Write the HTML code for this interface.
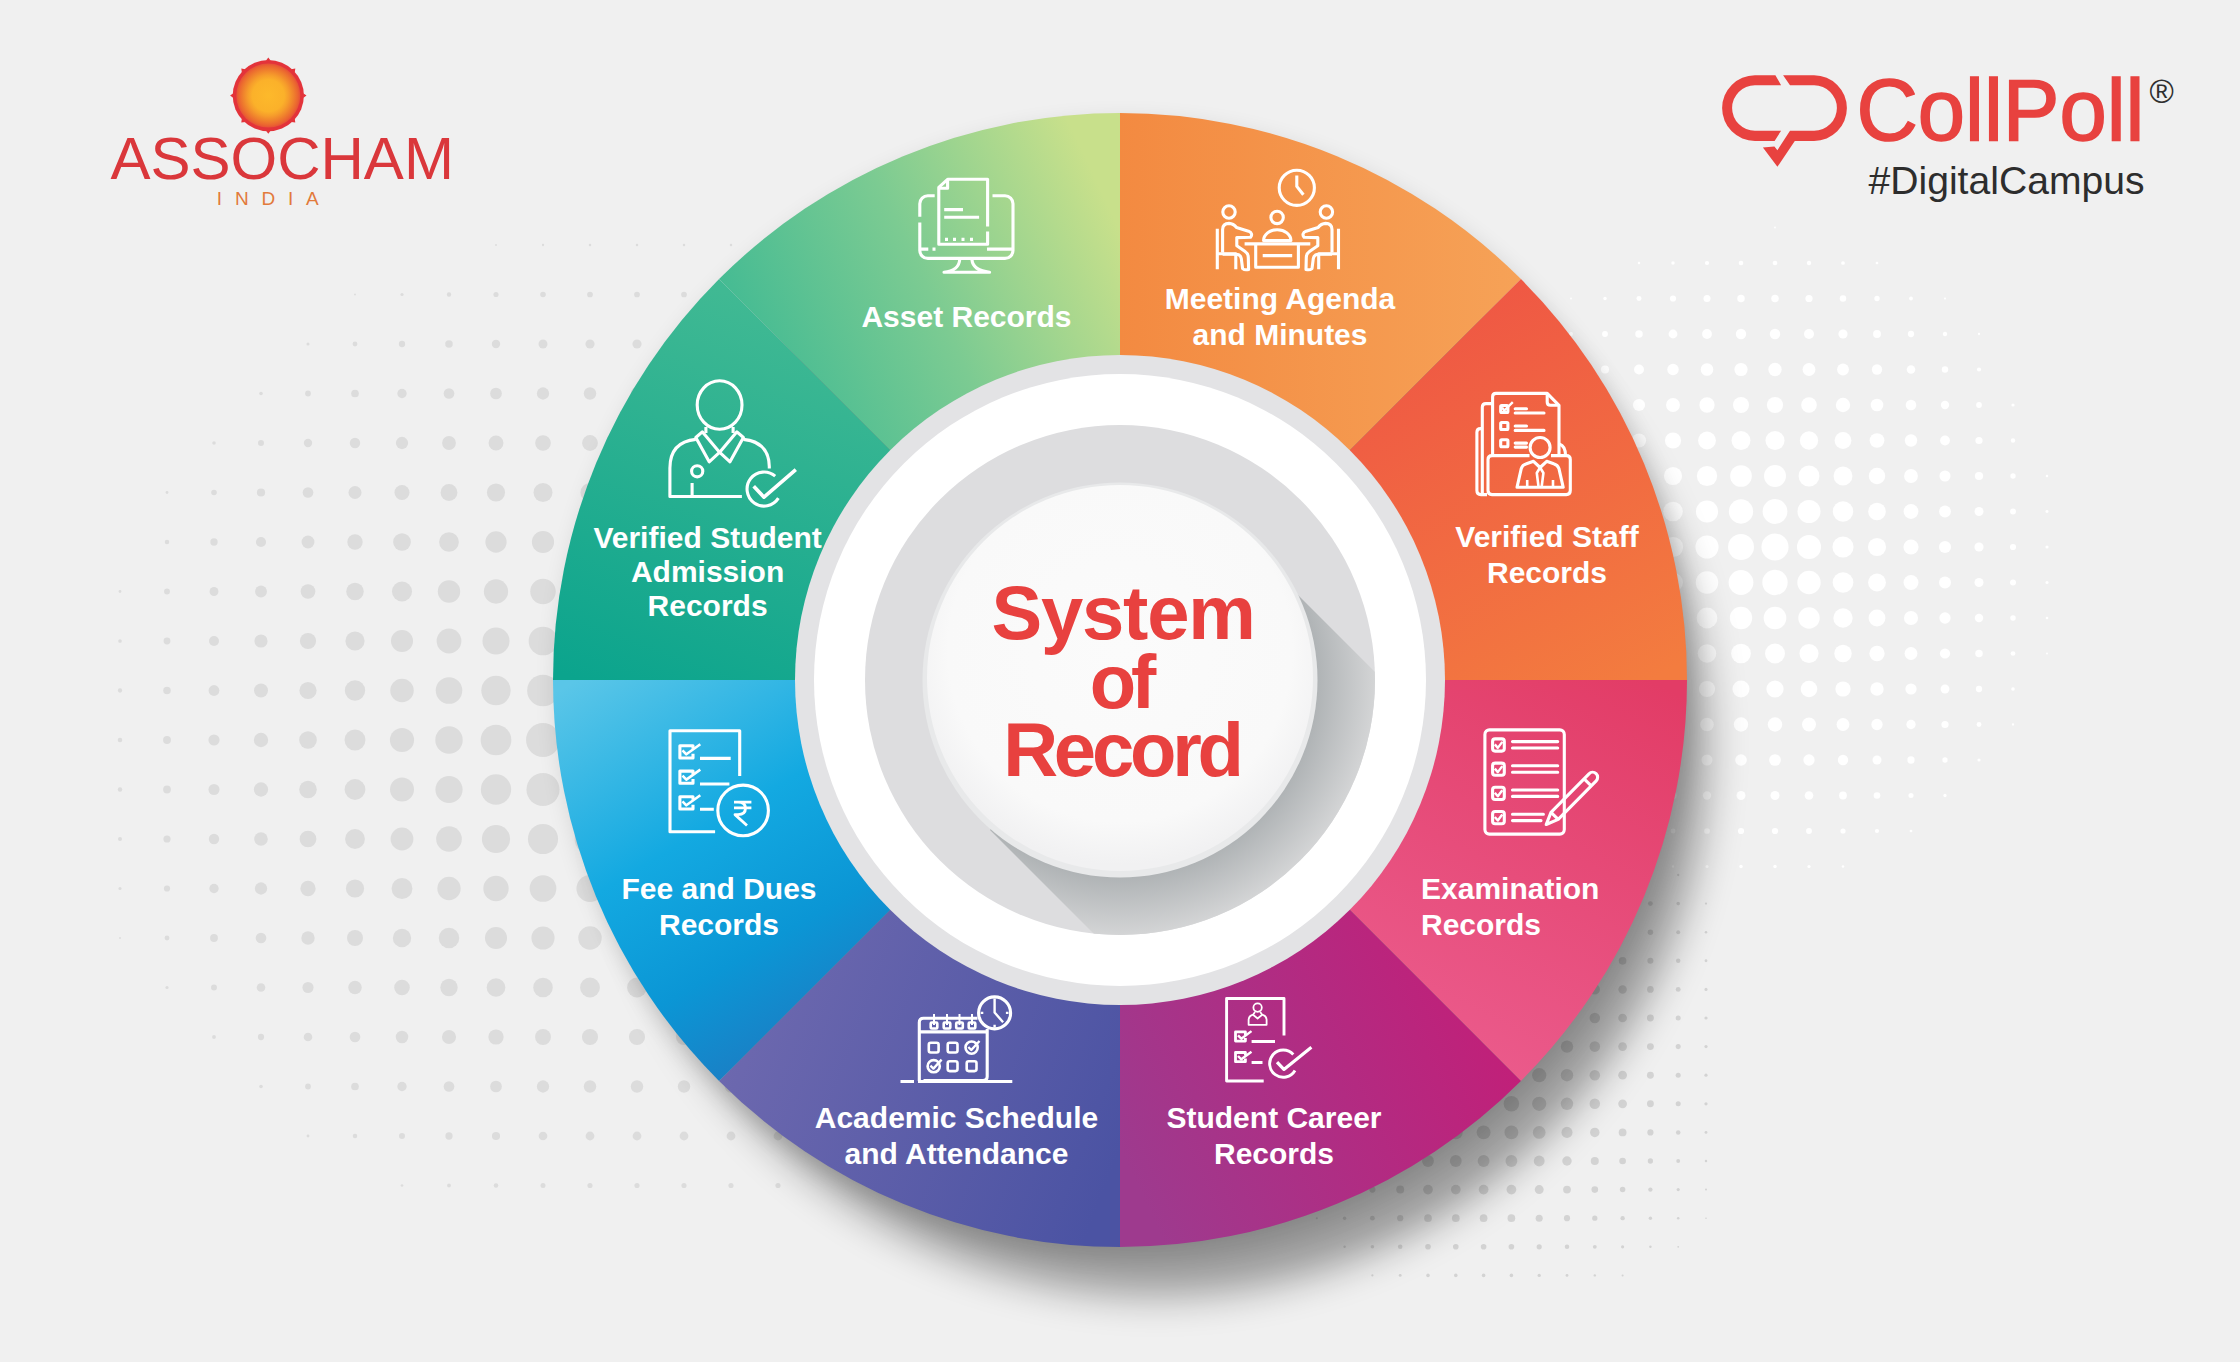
<!DOCTYPE html>
<html><head><meta charset="utf-8"><style>
html,body{margin:0;padding:0;}
body{width:2240px;height:1362px;overflow:hidden;background:#f0f0f0;position:relative;font-family:"Liberation Sans",sans-serif;}
svg{position:absolute;left:0;top:0;}
.lbl{font-family:"Liberation Sans",sans-serif;font-weight:bold;font-size:30px;letter-spacing:0px;fill:#fff;}
.sor{font-family:"Liberation Sans",sans-serif;font-weight:bold;fill:#e8413f;}
</style></head><body>
<svg width="2240" height="1362" viewBox="0 0 2240 1362">
<defs>
  <filter id="shblur" x="-20%" y="-20%" width="140%" height="140%"><feGaussianBlur stdDeviation="20"/></filter>
  <filter id="dotblur" x="-5%" y="-5%" width="110%" height="110%"><feGaussianBlur stdDeviation="0.7"/></filter>
  <filter id="shblur2" x="-20%" y="-20%" width="140%" height="140%"><feGaussianBlur stdDeviation="12"/></filter>
  <linearGradient id="gGreen" x1="760" y1="400" x2="1120" y2="230" gradientUnits="userSpaceOnUse"><stop offset="0" stop-color="#41ba93"/><stop offset="0.5" stop-color="#7ccb92"/><stop offset="1" stop-color="#c8e08b"/></linearGradient>
  <linearGradient id="gOrange" x1="1120" y1="300" x2="1520" y2="300" gradientUnits="userSpaceOnUse"><stop offset="0" stop-color="#f38a41"/><stop offset="1" stop-color="#f6a257"/></linearGradient>
  <linearGradient id="gRed" x1="1450" y1="300" x2="1650" y2="680" gradientUnits="userSpaceOnUse"><stop offset="0" stop-color="#ef5744"/><stop offset="1" stop-color="#f37c3f"/></linearGradient>
  <linearGradient id="gPink" x1="1650" y1="680" x2="1450" y2="1060" gradientUnits="userSpaceOnUse"><stop offset="0" stop-color="#e23c66"/><stop offset="1" stop-color="#eb5b8c"/></linearGradient>
  <linearGradient id="gMag" x1="1500" y1="1000" x2="1130" y2="1170" gradientUnits="userSpaceOnUse"><stop offset="0" stop-color="#c21f78"/><stop offset="1" stop-color="#9e3a8e"/></linearGradient>
  <linearGradient id="gPurp" x1="730" y1="1000" x2="1120" y2="1150" gradientUnits="userSpaceOnUse"><stop offset="0" stop-color="#6e69af"/><stop offset="1" stop-color="#4b53a3"/></linearGradient>
  <linearGradient id="gBlue" x1="560" y1="690" x2="780" y2="1060" gradientUnits="userSpaceOnUse"><stop offset="0" stop-color="#5ac6e8"/><stop offset="0.45" stop-color="#13a9e1"/><stop offset="0.75" stop-color="#0b96d5"/><stop offset="1" stop-color="#1b7ec4"/></linearGradient>
  <linearGradient id="gTeal" x1="720" y1="290" x2="580" y2="680" gradientUnits="userSpaceOnUse"><stop offset="0" stop-color="#40b993"/><stop offset="1" stop-color="#0ba48d"/></linearGradient>
  <radialGradient id="gShadow" cx="1120" cy="680" r="256" gradientUnits="userSpaceOnUse"><stop offset="0.76" stop-color="#aeb2b4"/><stop offset="1" stop-color="#d4d5d6"/></radialGradient>
  <radialGradient id="gDisc" cx="1120" cy="650" r="215" gradientUnits="userSpaceOnUse"><stop offset="0" stop-color="#fbfbfb"/><stop offset="0.8" stop-color="#f9f9f9"/><stop offset="1" stop-color="#f1f1f2"/></radialGradient>
  <clipPath id="clipRing"><circle cx="1120" cy="680" r="255"/></clipPath>
</defs>

<!--DOTS-->
<g fill="#dcdcdc"><circle cx="496.0" cy="245.0" r="0.91"/><circle cx="543.0" cy="245.0" r="1.13"/><circle cx="590.0" cy="245.0" r="1.19"/><circle cx="637.0" cy="245.0" r="1.19"/><circle cx="684.0" cy="245.0" r="1.19"/><circle cx="731.0" cy="245.0" r="1.19"/><circle cx="355.0" cy="294.5" r="0.93"/><circle cx="402.0" cy="294.5" r="1.62"/><circle cx="449.0" cy="294.5" r="2.17"/><circle cx="496.0" cy="294.5" r="2.56"/><circle cx="543.0" cy="294.5" r="2.80"/><circle cx="590.0" cy="294.5" r="2.87"/><circle cx="637.0" cy="294.5" r="2.87"/><circle cx="684.0" cy="294.5" r="2.87"/><circle cx="308.0" cy="344.0" r="1.54"/><circle cx="355.0" cy="344.0" r="2.41"/><circle cx="402.0" cy="344.0" r="3.16"/><circle cx="449.0" cy="344.0" r="3.77"/><circle cx="496.0" cy="344.0" r="4.21"/><circle cx="543.0" cy="344.0" r="4.47"/><circle cx="590.0" cy="344.0" r="4.55"/><circle cx="637.0" cy="344.0" r="4.55"/><circle cx="261.0" cy="393.5" r="1.83"/><circle cx="308.0" cy="393.5" r="2.89"/><circle cx="355.0" cy="393.5" r="3.84"/><circle cx="402.0" cy="393.5" r="4.67"/><circle cx="449.0" cy="393.5" r="5.35"/><circle cx="496.0" cy="393.5" r="5.84"/><circle cx="543.0" cy="393.5" r="6.14"/><circle cx="590.0" cy="393.5" r="6.23"/><circle cx="637.0" cy="393.5" r="6.23"/><circle cx="214.0" cy="443.0" r="1.79"/><circle cx="261.0" cy="443.0" r="3.02"/><circle cx="308.0" cy="443.0" r="4.17"/><circle cx="355.0" cy="443.0" r="5.22"/><circle cx="402.0" cy="443.0" r="6.14"/><circle cx="449.0" cy="443.0" r="6.90"/><circle cx="496.0" cy="443.0" r="7.46"/><circle cx="543.0" cy="443.0" r="7.81"/><circle cx="590.0" cy="443.0" r="7.91"/><circle cx="167.0" cy="492.5" r="1.43"/><circle cx="214.0" cy="492.5" r="2.80"/><circle cx="261.0" cy="492.5" r="4.12"/><circle cx="308.0" cy="492.5" r="5.36"/><circle cx="355.0" cy="492.5" r="6.52"/><circle cx="402.0" cy="492.5" r="7.54"/><circle cx="449.0" cy="492.5" r="8.41"/><circle cx="496.0" cy="492.5" r="9.07"/><circle cx="543.0" cy="492.5" r="9.47"/><circle cx="590.0" cy="492.5" r="9.59"/><circle cx="167.0" cy="542.0" r="2.24"/><circle cx="214.0" cy="542.0" r="3.69"/><circle cx="261.0" cy="542.0" r="5.09"/><circle cx="308.0" cy="542.0" r="6.44"/><circle cx="355.0" cy="542.0" r="7.71"/><circle cx="402.0" cy="542.0" r="8.86"/><circle cx="449.0" cy="542.0" r="9.86"/><circle cx="496.0" cy="542.0" r="10.63"/><circle cx="543.0" cy="542.0" r="11.12"/><circle cx="120.0" cy="591.5" r="1.38"/><circle cx="167.0" cy="591.5" r="2.92"/><circle cx="214.0" cy="591.5" r="4.43"/><circle cx="261.0" cy="591.5" r="5.92"/><circle cx="308.0" cy="591.5" r="7.37"/><circle cx="355.0" cy="591.5" r="8.75"/><circle cx="402.0" cy="591.5" r="10.05"/><circle cx="449.0" cy="591.5" r="11.20"/><circle cx="496.0" cy="591.5" r="12.14"/><circle cx="543.0" cy="591.5" r="12.76"/><circle cx="120.0" cy="641.0" r="1.84"/><circle cx="167.0" cy="641.0" r="3.43"/><circle cx="214.0" cy="641.0" r="5.01"/><circle cx="261.0" cy="641.0" r="6.57"/><circle cx="308.0" cy="641.0" r="8.10"/><circle cx="355.0" cy="641.0" r="9.60"/><circle cx="402.0" cy="641.0" r="11.04"/><circle cx="449.0" cy="641.0" r="12.38"/><circle cx="496.0" cy="641.0" r="13.54"/><circle cx="543.0" cy="641.0" r="14.36"/><circle cx="120.0" cy="690.5" r="2.15"/><circle cx="167.0" cy="690.5" r="3.77"/><circle cx="214.0" cy="690.5" r="5.39"/><circle cx="261.0" cy="690.5" r="7.00"/><circle cx="308.0" cy="690.5" r="8.60"/><circle cx="355.0" cy="690.5" r="10.19"/><circle cx="402.0" cy="690.5" r="11.76"/><circle cx="449.0" cy="690.5" r="13.28"/><circle cx="496.0" cy="690.5" r="14.70"/><circle cx="543.0" cy="690.5" r="15.87"/><circle cx="120.0" cy="740.0" r="2.29"/><circle cx="167.0" cy="740.0" r="3.93"/><circle cx="214.0" cy="740.0" r="5.56"/><circle cx="261.0" cy="740.0" r="7.20"/><circle cx="308.0" cy="740.0" r="8.84"/><circle cx="355.0" cy="740.0" r="10.47"/><circle cx="402.0" cy="740.0" r="12.10"/><circle cx="449.0" cy="740.0" r="13.73"/><circle cx="496.0" cy="740.0" r="15.36"/><circle cx="543.0" cy="740.0" r="16.95"/><circle cx="120.0" cy="789.5" r="2.25"/><circle cx="167.0" cy="789.5" r="3.88"/><circle cx="214.0" cy="789.5" r="5.51"/><circle cx="261.0" cy="789.5" r="7.14"/><circle cx="308.0" cy="789.5" r="8.77"/><circle cx="355.0" cy="789.5" r="10.39"/><circle cx="402.0" cy="789.5" r="12.00"/><circle cx="449.0" cy="789.5" r="13.59"/><circle cx="496.0" cy="789.5" r="15.15"/><circle cx="543.0" cy="789.5" r="16.56"/><circle cx="120.0" cy="839.0" r="2.00"/><circle cx="167.0" cy="839.0" r="3.61"/><circle cx="214.0" cy="839.0" r="5.21"/><circle cx="261.0" cy="839.0" r="6.79"/><circle cx="308.0" cy="839.0" r="8.36"/><circle cx="355.0" cy="839.0" r="9.91"/><circle cx="402.0" cy="839.0" r="11.41"/><circle cx="449.0" cy="839.0" r="12.83"/><circle cx="496.0" cy="839.0" r="14.11"/><circle cx="543.0" cy="839.0" r="15.06"/><circle cx="590.0" cy="839.0" r="15.39"/><circle cx="120.0" cy="888.5" r="1.56"/><circle cx="167.0" cy="888.5" r="3.12"/><circle cx="214.0" cy="888.5" r="4.66"/><circle cx="261.0" cy="888.5" r="6.18"/><circle cx="308.0" cy="888.5" r="7.66"/><circle cx="355.0" cy="888.5" r="9.09"/><circle cx="402.0" cy="888.5" r="10.43"/><circle cx="449.0" cy="888.5" r="11.66"/><circle cx="496.0" cy="888.5" r="12.67"/><circle cx="543.0" cy="888.5" r="13.35"/><circle cx="590.0" cy="888.5" r="13.56"/><circle cx="120.0" cy="938.0" r="0.94"/><circle cx="167.0" cy="938.0" r="2.44"/><circle cx="214.0" cy="938.0" r="3.91"/><circle cx="261.0" cy="938.0" r="5.34"/><circle cx="308.0" cy="938.0" r="6.71"/><circle cx="355.0" cy="938.0" r="8.01"/><circle cx="402.0" cy="938.0" r="9.20"/><circle cx="449.0" cy="938.0" r="10.24"/><circle cx="496.0" cy="938.0" r="11.05"/><circle cx="543.0" cy="938.0" r="11.57"/><circle cx="590.0" cy="938.0" r="11.73"/><circle cx="167.0" cy="987.5" r="1.59"/><circle cx="214.0" cy="987.5" r="2.97"/><circle cx="261.0" cy="987.5" r="4.31"/><circle cx="308.0" cy="987.5" r="5.57"/><circle cx="355.0" cy="987.5" r="6.74"/><circle cx="402.0" cy="987.5" r="7.79"/><circle cx="449.0" cy="987.5" r="8.68"/><circle cx="496.0" cy="987.5" r="9.36"/><circle cx="543.0" cy="987.5" r="9.77"/><circle cx="590.0" cy="987.5" r="9.90"/><circle cx="637.0" cy="987.5" r="9.90"/><circle cx="214.0" cy="1037.0" r="1.89"/><circle cx="261.0" cy="1037.0" r="3.13"/><circle cx="308.0" cy="1037.0" r="4.29"/><circle cx="355.0" cy="1037.0" r="5.34"/><circle cx="402.0" cy="1037.0" r="6.27"/><circle cx="449.0" cy="1037.0" r="7.04"/><circle cx="496.0" cy="1037.0" r="7.62"/><circle cx="543.0" cy="1037.0" r="7.96"/><circle cx="590.0" cy="1037.0" r="8.07"/><circle cx="637.0" cy="1037.0" r="8.07"/><circle cx="684.0" cy="1037.0" r="8.07"/><circle cx="261.0" cy="1086.5" r="1.83"/><circle cx="308.0" cy="1086.5" r="2.89"/><circle cx="355.0" cy="1086.5" r="3.85"/><circle cx="402.0" cy="1086.5" r="4.68"/><circle cx="449.0" cy="1086.5" r="5.35"/><circle cx="496.0" cy="1086.5" r="5.85"/><circle cx="543.0" cy="1086.5" r="6.15"/><circle cx="590.0" cy="1086.5" r="6.23"/><circle cx="637.0" cy="1086.5" r="6.23"/><circle cx="684.0" cy="1086.5" r="6.23"/><circle cx="731.0" cy="1086.5" r="6.23"/><circle cx="308.0" cy="1136.0" r="1.42"/><circle cx="355.0" cy="1136.0" r="2.28"/><circle cx="402.0" cy="1136.0" r="3.03"/><circle cx="449.0" cy="1136.0" r="3.63"/><circle cx="496.0" cy="1136.0" r="4.07"/><circle cx="543.0" cy="1136.0" r="4.33"/><circle cx="590.0" cy="1136.0" r="4.40"/><circle cx="637.0" cy="1136.0" r="4.40"/><circle cx="684.0" cy="1136.0" r="4.40"/><circle cx="731.0" cy="1136.0" r="4.40"/><circle cx="778.0" cy="1136.0" r="4.40"/><circle cx="402.0" cy="1185.5" r="1.34"/><circle cx="449.0" cy="1185.5" r="1.88"/><circle cx="496.0" cy="1185.5" r="2.27"/><circle cx="543.0" cy="1185.5" r="2.50"/><circle cx="590.0" cy="1185.5" r="2.57"/><circle cx="637.0" cy="1185.5" r="2.57"/><circle cx="684.0" cy="1185.5" r="2.57"/><circle cx="731.0" cy="1185.5" r="2.57"/><circle cx="778.0" cy="1185.5" r="2.57"/></g>
<g fill="#ffffff" filter="url(#dotblur)"><circle cx="1775" cy="227.5" r="0.91"/><circle cx="1639" cy="263.0" r="1.19"/><circle cx="1673" cy="263.0" r="1.72"/><circle cx="1707" cy="263.0" r="2.10"/><circle cx="1741" cy="263.0" r="2.31"/><circle cx="1775" cy="263.0" r="2.35"/><circle cx="1809" cy="263.0" r="2.19"/><circle cx="1843" cy="263.0" r="1.86"/><circle cx="1877" cy="263.0" r="1.35"/><circle cx="1571" cy="298.5" r="0.90"/><circle cx="1605" cy="298.5" r="1.75"/><circle cx="1639" cy="298.5" r="2.49"/><circle cx="1673" cy="298.5" r="3.08"/><circle cx="1707" cy="298.5" r="3.50"/><circle cx="1741" cy="298.5" r="3.74"/><circle cx="1775" cy="298.5" r="3.78"/><circle cx="1809" cy="298.5" r="3.61"/><circle cx="1843" cy="298.5" r="3.23"/><circle cx="1877" cy="298.5" r="2.67"/><circle cx="1911" cy="298.5" r="1.94"/><circle cx="1945" cy="298.5" r="1.08"/><circle cx="1571" cy="334.0" r="1.99"/><circle cx="1605" cy="334.0" r="2.93"/><circle cx="1639" cy="334.0" r="3.74"/><circle cx="1673" cy="334.0" r="4.41"/><circle cx="1707" cy="334.0" r="4.90"/><circle cx="1741" cy="334.0" r="5.18"/><circle cx="1775" cy="334.0" r="5.22"/><circle cx="1809" cy="334.0" r="5.02"/><circle cx="1843" cy="334.0" r="4.59"/><circle cx="1877" cy="334.0" r="3.94"/><circle cx="1911" cy="334.0" r="3.13"/><circle cx="1945" cy="334.0" r="2.18"/><circle cx="1979" cy="334.0" r="1.13"/><circle cx="1605" cy="369.5" r="4.03"/><circle cx="1639" cy="369.5" r="4.94"/><circle cx="1673" cy="369.5" r="5.71"/><circle cx="1707" cy="369.5" r="6.28"/><circle cx="1741" cy="369.5" r="6.61"/><circle cx="1775" cy="369.5" r="6.66"/><circle cx="1809" cy="369.5" r="6.42"/><circle cx="1843" cy="369.5" r="5.91"/><circle cx="1877" cy="369.5" r="5.17"/><circle cx="1911" cy="369.5" r="4.25"/><circle cx="1945" cy="369.5" r="3.21"/><circle cx="1979" cy="369.5" r="2.07"/><circle cx="1639" cy="405.0" r="6.06"/><circle cx="1673" cy="405.0" r="6.95"/><circle cx="1707" cy="405.0" r="7.63"/><circle cx="1741" cy="405.0" r="8.03"/><circle cx="1775" cy="405.0" r="8.10"/><circle cx="1809" cy="405.0" r="7.81"/><circle cx="1843" cy="405.0" r="7.19"/><circle cx="1877" cy="405.0" r="6.32"/><circle cx="1911" cy="405.0" r="5.29"/><circle cx="1945" cy="405.0" r="4.13"/><circle cx="1979" cy="405.0" r="2.89"/><circle cx="2013" cy="405.0" r="1.60"/><circle cx="1639" cy="440.5" r="7.06"/><circle cx="1673" cy="440.5" r="8.09"/><circle cx="1707" cy="440.5" r="8.92"/><circle cx="1741" cy="440.5" r="9.44"/><circle cx="1775" cy="440.5" r="9.53"/><circle cx="1809" cy="440.5" r="9.15"/><circle cx="1843" cy="440.5" r="8.38"/><circle cx="1877" cy="440.5" r="7.36"/><circle cx="1911" cy="440.5" r="6.19"/><circle cx="1945" cy="440.5" r="4.91"/><circle cx="1979" cy="440.5" r="3.58"/><circle cx="2013" cy="440.5" r="2.21"/><circle cx="1639" cy="476.0" r="7.88"/><circle cx="1673" cy="476.0" r="9.08"/><circle cx="1707" cy="476.0" r="10.12"/><circle cx="1741" cy="476.0" r="10.83"/><circle cx="1775" cy="476.0" r="10.97"/><circle cx="1809" cy="476.0" r="10.43"/><circle cx="1843" cy="476.0" r="9.44"/><circle cx="1877" cy="476.0" r="8.23"/><circle cx="1911" cy="476.0" r="6.91"/><circle cx="1945" cy="476.0" r="5.53"/><circle cx="1979" cy="476.0" r="4.11"/><circle cx="2013" cy="476.0" r="2.68"/><circle cx="2047" cy="476.0" r="1.23"/><circle cx="1673" cy="511.5" r="9.81"/><circle cx="1707" cy="511.5" r="11.09"/><circle cx="1741" cy="511.5" r="12.14"/><circle cx="1775" cy="511.5" r="12.38"/><circle cx="1809" cy="511.5" r="11.51"/><circle cx="1843" cy="511.5" r="10.23"/><circle cx="1877" cy="511.5" r="8.83"/><circle cx="1911" cy="511.5" r="7.39"/><circle cx="1945" cy="511.5" r="5.92"/><circle cx="1979" cy="511.5" r="4.45"/><circle cx="2013" cy="511.5" r="2.97"/><circle cx="2047" cy="511.5" r="1.49"/><circle cx="1673" cy="547.0" r="10.11"/><circle cx="1707" cy="547.0" r="11.54"/><circle cx="1741" cy="547.0" r="12.98"/><circle cx="1775" cy="547.0" r="13.54"/><circle cx="1809" cy="547.0" r="12.06"/><circle cx="1843" cy="547.0" r="10.56"/><circle cx="1877" cy="547.0" r="9.07"/><circle cx="1911" cy="547.0" r="7.57"/><circle cx="1945" cy="547.0" r="6.07"/><circle cx="1979" cy="547.0" r="4.58"/><circle cx="2013" cy="547.0" r="3.08"/><circle cx="2047" cy="547.0" r="1.58"/><circle cx="1673" cy="582.5" r="9.91"/><circle cx="1707" cy="582.5" r="11.24"/><circle cx="1741" cy="582.5" r="12.38"/><circle cx="1775" cy="582.5" r="12.67"/><circle cx="1809" cy="582.5" r="11.69"/><circle cx="1843" cy="582.5" r="10.34"/><circle cx="1877" cy="582.5" r="8.91"/><circle cx="1911" cy="582.5" r="7.45"/><circle cx="1945" cy="582.5" r="5.98"/><circle cx="1979" cy="582.5" r="4.50"/><circle cx="2013" cy="582.5" r="3.01"/><circle cx="2047" cy="582.5" r="1.52"/><circle cx="1673" cy="618.0" r="9.30"/><circle cx="1707" cy="618.0" r="10.40"/><circle cx="1741" cy="618.0" r="11.18"/><circle cx="1775" cy="618.0" r="11.33"/><circle cx="1809" cy="618.0" r="10.73"/><circle cx="1843" cy="618.0" r="9.67"/><circle cx="1877" cy="618.0" r="8.41"/><circle cx="1911" cy="618.0" r="7.06"/><circle cx="1945" cy="618.0" r="5.65"/><circle cx="1979" cy="618.0" r="4.22"/><circle cx="2013" cy="618.0" r="2.77"/><circle cx="2047" cy="618.0" r="1.31"/><circle cx="1707" cy="653.5" r="9.31"/><circle cx="1741" cy="653.5" r="9.87"/><circle cx="1775" cy="653.5" r="9.97"/><circle cx="1809" cy="653.5" r="9.55"/><circle cx="1843" cy="653.5" r="8.73"/><circle cx="1877" cy="653.5" r="7.65"/><circle cx="1911" cy="653.5" r="6.43"/><circle cx="1945" cy="653.5" r="5.12"/><circle cx="1979" cy="653.5" r="3.76"/><circle cx="2013" cy="653.5" r="2.37"/><circle cx="2047" cy="653.5" r="0.96"/><circle cx="1707" cy="689.0" r="8.09"/><circle cx="1741" cy="689.0" r="8.53"/><circle cx="1775" cy="689.0" r="8.61"/><circle cx="1809" cy="689.0" r="8.29"/><circle cx="1843" cy="689.0" r="7.62"/><circle cx="1877" cy="689.0" r="6.71"/><circle cx="1911" cy="689.0" r="5.62"/><circle cx="1945" cy="689.0" r="4.42"/><circle cx="1979" cy="689.0" r="3.15"/><circle cx="2013" cy="689.0" r="1.83"/><circle cx="1707" cy="724.5" r="6.82"/><circle cx="1741" cy="724.5" r="7.18"/><circle cx="1775" cy="724.5" r="7.24"/><circle cx="1809" cy="724.5" r="6.98"/><circle cx="1843" cy="724.5" r="6.43"/><circle cx="1877" cy="724.5" r="5.64"/><circle cx="1911" cy="724.5" r="4.68"/><circle cx="1945" cy="724.5" r="3.59"/><circle cx="1979" cy="724.5" r="2.41"/><circle cx="2013" cy="724.5" r="1.16"/><circle cx="1707" cy="760.0" r="5.52"/><circle cx="1741" cy="760.0" r="5.82"/><circle cx="1775" cy="760.0" r="5.87"/><circle cx="1809" cy="760.0" r="5.65"/><circle cx="1843" cy="760.0" r="5.18"/><circle cx="1877" cy="760.0" r="4.50"/><circle cx="1911" cy="760.0" r="3.64"/><circle cx="1945" cy="760.0" r="2.65"/><circle cx="1979" cy="760.0" r="1.56"/><circle cx="1673" cy="795.5" r="3.74"/><circle cx="1707" cy="795.5" r="4.19"/><circle cx="1741" cy="795.5" r="4.45"/><circle cx="1775" cy="795.5" r="4.50"/><circle cx="1809" cy="795.5" r="4.31"/><circle cx="1843" cy="795.5" r="3.90"/><circle cx="1877" cy="795.5" r="3.30"/><circle cx="1911" cy="795.5" r="2.53"/><circle cx="1945" cy="795.5" r="1.63"/><circle cx="1673" cy="831.0" r="2.46"/><circle cx="1707" cy="831.0" r="2.86"/><circle cx="1741" cy="831.0" r="3.09"/><circle cx="1775" cy="831.0" r="3.12"/><circle cx="1809" cy="831.0" r="2.96"/><circle cx="1843" cy="831.0" r="2.60"/><circle cx="1877" cy="831.0" r="2.07"/><circle cx="1911" cy="831.0" r="1.37"/><circle cx="1673" cy="866.5" r="1.16"/><circle cx="1707" cy="866.5" r="1.52"/><circle cx="1741" cy="866.5" r="1.72"/><circle cx="1775" cy="866.5" r="1.75"/><circle cx="1809" cy="866.5" r="1.61"/><circle cx="1843" cy="866.5" r="1.29"/></g>
<g fill="#d3d3d3"><circle cx="1650.4" cy="875.0" r="1.55"/><circle cx="1678.2" cy="875.0" r="1.14"/><circle cx="1650.4" cy="903.6" r="2.45"/><circle cx="1678.2" cy="903.6" r="1.80"/><circle cx="1706.0" cy="903.6" r="1.15"/><circle cx="1622.6" cy="932.2" r="3.48"/><circle cx="1650.4" cy="932.2" r="2.75"/><circle cx="1678.2" cy="932.2" r="2.02"/><circle cx="1706.0" cy="932.2" r="1.29"/><circle cx="1622.6" cy="960.8" r="3.85"/><circle cx="1650.4" cy="960.8" r="3.04"/><circle cx="1678.2" cy="960.8" r="2.23"/><circle cx="1706.0" cy="960.8" r="1.43"/><circle cx="1594.8" cy="989.4" r="5.12"/><circle cx="1622.6" cy="989.4" r="4.23"/><circle cx="1650.4" cy="989.4" r="3.34"/><circle cx="1678.2" cy="989.4" r="2.45"/><circle cx="1706.0" cy="989.4" r="1.56"/><circle cx="1567.0" cy="1018.0" r="6.20"/><circle cx="1594.8" cy="1018.0" r="5.28"/><circle cx="1622.6" cy="1018.0" r="4.37"/><circle cx="1650.4" cy="1018.0" r="3.45"/><circle cx="1678.2" cy="1018.0" r="2.53"/><circle cx="1706.0" cy="1018.0" r="1.62"/><circle cx="1567.0" cy="1046.6" r="6.20"/><circle cx="1594.8" cy="1046.6" r="5.28"/><circle cx="1622.6" cy="1046.6" r="4.37"/><circle cx="1650.4" cy="1046.6" r="3.45"/><circle cx="1678.2" cy="1046.6" r="2.53"/><circle cx="1706.0" cy="1046.6" r="1.62"/><circle cx="1539.2" cy="1075.2" r="7.12"/><circle cx="1567.0" cy="1075.2" r="6.20"/><circle cx="1594.8" cy="1075.2" r="5.28"/><circle cx="1622.6" cy="1075.2" r="4.37"/><circle cx="1650.4" cy="1075.2" r="3.45"/><circle cx="1678.2" cy="1075.2" r="2.53"/><circle cx="1706.0" cy="1075.2" r="1.62"/><circle cx="1483.6" cy="1103.8" r="7.75"/><circle cx="1511.4" cy="1103.8" r="7.75"/><circle cx="1539.2" cy="1103.8" r="7.12"/><circle cx="1567.0" cy="1103.8" r="6.20"/><circle cx="1594.8" cy="1103.8" r="5.28"/><circle cx="1622.6" cy="1103.8" r="4.37"/><circle cx="1650.4" cy="1103.8" r="3.45"/><circle cx="1678.2" cy="1103.8" r="2.53"/><circle cx="1706.0" cy="1103.8" r="1.62"/><circle cx="1455.8" cy="1132.4" r="6.94"/><circle cx="1483.6" cy="1132.4" r="6.94"/><circle cx="1511.4" cy="1132.4" r="6.94"/><circle cx="1539.2" cy="1132.4" r="6.38"/><circle cx="1567.0" cy="1132.4" r="5.55"/><circle cx="1594.8" cy="1132.4" r="4.73"/><circle cx="1622.6" cy="1132.4" r="3.91"/><circle cx="1650.4" cy="1132.4" r="3.09"/><circle cx="1678.2" cy="1132.4" r="2.27"/><circle cx="1706.0" cy="1132.4" r="1.45"/><circle cx="1428.0" cy="1161.0" r="5.91"/><circle cx="1455.8" cy="1161.0" r="5.91"/><circle cx="1483.6" cy="1161.0" r="5.91"/><circle cx="1511.4" cy="1161.0" r="5.91"/><circle cx="1539.2" cy="1161.0" r="5.43"/><circle cx="1567.0" cy="1161.0" r="4.73"/><circle cx="1594.8" cy="1161.0" r="4.03"/><circle cx="1622.6" cy="1161.0" r="3.33"/><circle cx="1650.4" cy="1161.0" r="2.63"/><circle cx="1678.2" cy="1161.0" r="1.93"/><circle cx="1706.0" cy="1161.0" r="1.23"/><circle cx="1372.4" cy="1189.6" r="3.07"/><circle cx="1400.2" cy="1189.6" r="3.98"/><circle cx="1428.0" cy="1189.6" r="4.88"/><circle cx="1455.8" cy="1189.6" r="4.88"/><circle cx="1483.6" cy="1189.6" r="4.88"/><circle cx="1511.4" cy="1189.6" r="4.88"/><circle cx="1539.2" cy="1189.6" r="4.48"/><circle cx="1567.0" cy="1189.6" r="3.90"/><circle cx="1594.8" cy="1189.6" r="3.33"/><circle cx="1622.6" cy="1189.6" r="2.75"/><circle cx="1650.4" cy="1189.6" r="2.17"/><circle cx="1678.2" cy="1189.6" r="1.60"/><circle cx="1706.0" cy="1189.6" r="1.02"/><circle cx="1316.8" cy="1218.2" r="1.00"/><circle cx="1344.6" cy="1218.2" r="1.71"/><circle cx="1372.4" cy="1218.2" r="2.42"/><circle cx="1400.2" cy="1218.2" r="3.14"/><circle cx="1428.0" cy="1218.2" r="3.85"/><circle cx="1455.8" cy="1218.2" r="3.85"/><circle cx="1483.6" cy="1218.2" r="3.85"/><circle cx="1511.4" cy="1218.2" r="3.85"/><circle cx="1539.2" cy="1218.2" r="3.54"/><circle cx="1567.0" cy="1218.2" r="3.08"/><circle cx="1594.8" cy="1218.2" r="2.62"/><circle cx="1622.6" cy="1218.2" r="2.17"/><circle cx="1650.4" cy="1218.2" r="1.71"/><circle cx="1678.2" cy="1218.2" r="1.26"/><circle cx="1706.0" cy="1218.2" r="0.80"/><circle cx="1344.6" cy="1246.8" r="1.25"/><circle cx="1372.4" cy="1246.8" r="1.77"/><circle cx="1400.2" cy="1246.8" r="2.30"/><circle cx="1428.0" cy="1246.8" r="2.82"/><circle cx="1455.8" cy="1246.8" r="2.82"/><circle cx="1483.6" cy="1246.8" r="2.82"/><circle cx="1511.4" cy="1246.8" r="2.82"/><circle cx="1539.2" cy="1246.8" r="2.59"/><circle cx="1567.0" cy="1246.8" r="2.26"/><circle cx="1594.8" cy="1246.8" r="1.92"/><circle cx="1622.6" cy="1246.8" r="1.59"/><circle cx="1650.4" cy="1246.8" r="1.25"/><circle cx="1678.2" cy="1246.8" r="0.92"/><circle cx="1372.4" cy="1275.4" r="1.13"/><circle cx="1400.2" cy="1275.4" r="1.46"/><circle cx="1428.0" cy="1275.4" r="1.79"/><circle cx="1455.8" cy="1275.4" r="1.79"/><circle cx="1483.6" cy="1275.4" r="1.79"/><circle cx="1511.4" cy="1275.4" r="1.79"/><circle cx="1539.2" cy="1275.4" r="1.64"/><circle cx="1567.0" cy="1275.4" r="1.43"/><circle cx="1594.8" cy="1275.4" r="1.22"/><circle cx="1622.6" cy="1275.4" r="1.01"/></g>
<!--/DOTS-->
<!-- drop shadow of big circle -->
<circle cx="1124" cy="688" r="566" fill="#000" opacity="0.13" filter="url(#shblur2)"/>
<circle cx="1157" cy="745" r="550" fill="#000" opacity="0.36" filter="url(#shblur)"/>

<!-- segments -->
<path d="M1120 680 L719.07 279.07 A567 567 0 0 1 1120 113 Z" fill="url(#gGreen)"/>
<path d="M1120 680 L1120 113 A567 567 0 0 1 1520.93 279.07 Z" fill="url(#gOrange)"/>
<path d="M1120 680 L1520.93 279.07 A567 567 0 0 1 1687 680 Z" fill="url(#gRed)"/>
<path d="M1120 680 L1687 680 A567 567 0 0 1 1520.93 1080.93 Z" fill="url(#gPink)"/>
<path d="M1120 680 L1520.93 1080.93 A567 567 0 0 1 1120 1247 Z" fill="url(#gMag)"/>
<path d="M1120 680 L1120 1247 A567 567 0 0 1 719.07 1080.93 Z" fill="url(#gPurp)"/>
<path d="M1120 680 L719.07 1080.93 A567 567 0 0 1 553 680 Z" fill="url(#gBlue)"/>
<path d="M1120 680 L553 680 A567 567 0 0 1 719.07 279.07 Z" fill="url(#gTeal)"/>

<!-- center rings -->
<circle cx="1120" cy="680" r="325" fill="#e3e3e5"/>
<circle cx="1120" cy="680" r="306" fill="#ffffff"/>
<circle cx="1120" cy="680" r="255" fill="#dddddf"/>
<g clip-path="url(#clipRing)">
  <path d="M1270 567 L1700 997 L1420 1260 L990 830 L1120 680 Z" fill="url(#gShadow)"/>
</g>
<circle cx="1120" cy="680" r="197.5" fill="#e8e9ea"/>
<circle cx="1120" cy="678" r="193" fill="url(#gDisc)"/>

<!-- center text -->
<text class="sor" x="1123" y="638.5" font-size="76" letter-spacing="-1.2" text-anchor="middle">System</text>
<text class="sor" x="1120.5" y="708" font-size="76" letter-spacing="-5" text-anchor="middle">of</text>
<text class="sor" x="1121.5" y="776" font-size="76" letter-spacing="-4.2" text-anchor="middle">Record</text>

<!-- labels -->
<text class="lbl" x="966.5" y="327" text-anchor="middle">Asset Records</text>
<text class="lbl" x="1280" y="309" text-anchor="middle">Meeting Agenda</text>
<text class="lbl" x="1280" y="345" text-anchor="middle">and Minutes</text>
<text class="lbl" x="707.6" y="548" text-anchor="middle" letter-spacing="-0.3">Verified Student</text>
<text class="lbl" x="707.6" y="582" text-anchor="middle">Admission</text>
<text class="lbl" x="707.6" y="616" text-anchor="middle">Records</text>
<text class="lbl" x="1547" y="547" text-anchor="middle">Verified Staff</text>
<text class="lbl" x="1547" y="583" text-anchor="middle">Records</text>
<text class="lbl" x="719" y="899" text-anchor="middle">Fee and Dues</text>
<text class="lbl" x="719" y="935" text-anchor="middle">Records</text>
<text class="lbl" x="1421" y="899">Examination</text>
<text class="lbl" x="1421" y="935">Records</text>
<text class="lbl" x="956.5" y="1128" text-anchor="middle">Academic Schedule</text>
<text class="lbl" x="956.5" y="1164" text-anchor="middle">and Attendance</text>
<text class="lbl" x="1274" y="1128" text-anchor="middle">Student Career</text>
<text class="lbl" x="1274" y="1164" text-anchor="middle">Records</text>

<!--ICONS-->
<g fill="none" stroke="#fff" stroke-width="3.1" stroke-linecap="butt" stroke-linejoin="round">
<path d="M934.7 195.8 H927.8 A8 8 0 0 0 919.8 203.8 V216.8 M919.8 222.5 V250.4 A8 8 0 0 0 927.8 258.4 H1005 A8 8 0 0 0 1013 250.4 V203.8 A8 8 0 0 0 1005 195.8 H992.5"/>
<path d="M921 249.1 H928.3 M932.5 249.1 H935.5 M987 249.1 H1012"/>
<path d="M987.6 226.5 V179.3 H947.6 L938.8 187.4 V244.3 H987.6 V231.4"/>
<path d="M947.6 179.3 V188.2 H938.8"/>
<path d="M944.2 209.6 H963 M944.2 217.2 H979.1"/>
<path d="M945 239.4 H948 M953 239.4 H956 M961.5 239.4 H964.5 M970 239.4 H973"/>
<path d="M959.7 259.5 Q959 270.5 944 272.3 H989.6 Q973 270.5 971.9 259.5"/>
<circle cx="1296.8" cy="187.8" r="17.6"/>
<path d="M1296.8 175.5 V186.4 L1303.4 194.8"/>
<circle cx="1229" cy="212" r="6.2"/><circle cx="1277.1" cy="217.4" r="6.2"/><circle cx="1326.4" cy="212" r="6.2"/>
<path d="M1263.6 240.5 A13.65 10.8 0 0 1 1290.9 240.5 Z"/>
<path d="M1244.6 243.9 H1310.3 M1255.7 243.9 V267.2 H1298.4 V243.9 M1262.7 255.6 H1292.2"/>
<path d="M1217.3 228.7 V269.2 M1217.3 253.8 H1235.8 V269.2"/>
<path d="M1338.5 228.7 V269.2 M1338.5 253.8 H1318.7 V269.2"/>
<path d="M1222.6 252.5 V229.5 Q1222.8 223.4 1229 223.4 Q1233.5 223.6 1236.5 227.5 L1248.5 231.2 Q1253.5 233.5 1250.5 237.3 L1236.8 237.6 V245.8 L1244.8 251.2 Q1248.3 253.5 1248.3 257.5 L1248.6 269.4 Q1245 270.5 1242.6 268.6 L1241.3 258.6 Q1240.4 254.2 1236 254.2 L1222.6 254.2"/>
<path transform="translate(2554.6 0) scale(-1 1)" d="M1222.6 252.5 V229.5 Q1222.8 223.4 1229 223.4 Q1233.5 223.6 1236.5 227.5 L1248.5 231.2 Q1253.5 233.5 1250.5 237.3 L1236.8 237.6 V245.8 L1244.8 251.2 Q1248.3 253.5 1248.3 257.5 L1248.6 269.4 Q1245 270.5 1242.6 268.6 L1241.3 258.6 Q1240.4 254.2 1236 254.2 L1222.6 254.2"/>
<path d="M1482.3 428.6 H1480.6 Q1476.9 428.6 1476.9 432.3 V490.6 Q1476.9 494.6 1481 494.6 H1487"/>
<path d="M1492.6 403.6 H1486 Q1482.3 403.6 1482.3 407.3 V494.6"/>
<path d="M1492.6 455 V396.8 Q1492.6 393.4 1496 393.4 H1547.2 L1559 405.3 V455"/>
<path d="M1547.2 393.4 V402 Q1547.2 405.3 1550.5 405.3 H1559"/>
<rect x="1500.7" y="405.5" width="7.2" height="7" rx="1"/><rect x="1500.7" y="422.5" width="7.2" height="7" rx="1"/><rect x="1500.7" y="439.8" width="7.2" height="7" rx="1"/>
<path d="M1502 407.5 L1504.3 410.5 L1512.8 402.2" stroke-width="2.4"/>
<path stroke-linecap="round" d="M1515.2 408.8 H1526.5 M1515.2 413 H1544 M1515.2 426 H1526.5 M1515.2 430.4 H1544 M1515.2 443.1 H1526.5 M1515.2 447.1 H1526.5"/>
<path d="M1529.5 455.6 H1492 Q1488 455.6 1488 459.6 V490.6 Q1488 494.6 1492 494.6 H1566.3 Q1570.3 494.6 1570.3 490.6 V459.6 Q1570.3 455.6 1566.3 455.6 H1551"/>
<path d="M1559.3 444 Q1565.5 446 1565.5 455.6"/>
<circle cx="1540.1" cy="447.5" r="10"/>
<path d="M1517 487.3 L1521.3 468.4 Q1522.5 465 1526.5 463.8 L1533.5 461.3 L1540.1 467.5 L1546.7 461.3 L1553.7 463.8 Q1557.7 465 1558.9 468.4 L1563.2 487.3 Z"/>
<path d="M1540.1 467.5 L1536.8 473 L1538.6 487.3 M1540.1 467.5 L1543.4 473 L1541.6 487.3 M1527.2 487.3 V480 M1553 487.3 V480" stroke-width="2.6"/>
<rect x="1484.9" y="729.9" width="79.4" height="104.2" rx="4.5"/>
<rect x="1492.6" y="738.9" width="11.7" height="12.2" rx="2.5"/>
<path d="M1494.8 744.4 L1497.8 747.9 L1502.3 741.9" stroke-width="2.4"/>
<path stroke-linecap="round" d="M1512.5 741.6 H1557.7 M1512.5 748.0 H1557.7"/>
<rect x="1492.6" y="763.1" width="11.7" height="12.2" rx="2.5"/>
<path d="M1494.8 768.6 L1497.8 772.1 L1502.3 766.1" stroke-width="2.4"/>
<path stroke-linecap="round" d="M1512.5 765.8 H1557.7 M1512.5 772.2 H1557.7"/>
<rect x="1492.6" y="787.3" width="11.7" height="12.2" rx="2.5"/>
<path d="M1494.8 792.8 L1497.8 796.3 L1502.3 790.3" stroke-width="2.4"/>
<path stroke-linecap="round" d="M1512.5 790.0 H1557.7 M1512.5 796.4 H1557.7"/>
<rect x="1492.6" y="811.5" width="11.7" height="12.2" rx="2.5"/>
<path d="M1494.8 817.0 L1497.8 820.5 L1502.3 814.5" stroke-width="2.4"/>
<path stroke-linecap="round" d="M1512.5 814.2 H1543.4 M1512.5 820.6 H1541"/>
<path d="M1546.2 824.5 L1558.2 819.4 L1596.2 780.8 A5.0 5.0 0 0 0 1589.0 773.8 L1551.0 812.4 Z"/>
<path d="M1591.3 785.8 L1584.1 778.8"/>
<path d="M1558.2 819.4 L1551.0 812.4"/>
<path d="M715.1 831.8 H670 V730.8 H739.7 V776"/>
<path d="M693 748.8 V745.8 H679.9 V758.0 H693 V753.8"/>
<path d="M682.5 750.3 L686.3 754.3 L700.3 744.3" stroke-width="2.6"/>
<path d="M693 774.1 V771.1 H679.9 V783.3 H693 V779.1"/>
<path d="M682.5 775.6 L686.3 779.6 L700.3 769.6" stroke-width="2.6"/>
<path d="M693 799.8 V796.8 H679.9 V809.0 H693 V804.8"/>
<path d="M682.5 801.3 L686.3 805.3 L700.3 795.3" stroke-width="2.6"/>
<path d="M700 758.4 H730.7 M700 784 H729.4 M700 809.2 H713.8"/>
<circle cx="743.1" cy="810.4" r="25.3"/>
<path d="M734 802.2 H751.4 M734 807.9 H751.4 M734 802.2 H738 Q745.5 802.2 745.5 808.3 Q745.5 814.6 738 814.6 H735 L747 825.5" stroke-width="2.8"/>
<path d="M919.3 1081 V1022.5 Q919.3 1018.3 923.5 1018.3 H977.5 M987.2 1029 V1076.5 Q987.2 1080.5 983 1080.5 H923.5"/>
<path d="M919.3 1031.9 H987.2"/>
<rect x="930.7" y="1022.5" width="6.6" height="6" rx="1" stroke-width="2.6"/>
<path d="M934 1014 V1025" stroke-width="2"/>
<rect x="943.7" y="1022.5" width="6.6" height="6" rx="1" stroke-width="2.6"/>
<path d="M947 1014 V1025" stroke-width="2"/>
<rect x="956.2" y="1022.5" width="6.6" height="6" rx="1" stroke-width="2.6"/>
<path d="M959.5 1014 V1025" stroke-width="2"/>
<rect x="968.7" y="1022.5" width="6.6" height="6" rx="1" stroke-width="2.6"/>
<path d="M972 1014 V1025" stroke-width="2"/>
<rect x="928.8" y="1042.7" width="9.8" height="9.8" rx="2" stroke-width="2.6"/>
<rect x="947.7" y="1042.7" width="9.8" height="9.8" rx="2" stroke-width="2.6"/>
<circle cx="971.6" cy="1047.6" r="6.1" stroke-width="2.6"/>
<path d="M968.3 1047.0 L971.3 1050.0 L979.5 1041.0" stroke-width="2.4"/>
<circle cx="933.7" cy="1066.2" r="6.1" stroke-width="2.6"/>
<path d="M930.4 1065.6 L933.4 1068.6 L941.6 1059.6" stroke-width="2.4"/>
<rect x="947.7" y="1061.3" width="9.8" height="9.8" rx="2" stroke-width="2.6"/>
<rect x="966.7" y="1061.3" width="9.8" height="9.8" rx="2" stroke-width="2.6"/>
<path d="M900.5 1081.5 H914 M918 1081.5 H1012.3"/>
<circle cx="994.6" cy="1012.9" r="16"/>
<path d="M994.6 999.5 V1012.5 L1003.1 1022.2 M994.6 998.5 V1001 M994.6 1024.8 V1027.5 M980.7 1012.9 H983.3 M1005.9 1012.9 H1008.5" stroke-width="2.4"/>
<path d="M1263.7 1081 H1226.6 V998.5 H1284 V1035.5" stroke-width="2.9"/>
<circle cx="1257.6" cy="1007.6" r="4.2" stroke-width="1.8"/>
<path d="M1248.6 1024.8 V1019.5 Q1249 1015.8 1253 1014.7 L1257.6 1018.5 L1262.2 1014.7 Q1266.2 1015.8 1266.6 1019.5 V1024.8 Z M1253 1014.7 L1255 1012 M1262.2 1014.7 L1260.2 1012" stroke-width="1.8"/>
<path d="M1245.4 1034.9 V1031.9 H1235.5 V1041.1 H1245.4 V1037.9" stroke-width="2.8"/>
<path d="M1238 1035.4 L1241.3 1038.7 L1251.5 1031.1" stroke-width="2.4"/>
<path d="M1245.4 1055.5 V1052.5 H1235.5 V1061.7 H1245.4 V1058.5" stroke-width="2.8"/>
<path d="M1238 1056.0 L1241.3 1059.3 L1251.5 1051.7" stroke-width="2.4"/>
<path d="M1251.6 1041.5 H1275 M1251.6 1062.5 H1262.5" stroke-width="2.9"/>
<path d="M1293.3 1054.5 A13.6 13.6 0 1 0 1295 1070.5" stroke-width="2.9"/>
<path d="M1277 1062.1 L1283.9 1069.4 L1311.4 1047.2" stroke-width="3.2"/>
<ellipse cx="719.6" cy="405" rx="22.4" ry="24.2"/>
<path d="M705.9 427 V433 M733.1 427 V433"/>
<path d="M695.8 437.5 L702.3 431.8 L719.5 452.3 L709.2 461.8 Z M743.4 437.5 L736.9 431.8 L719.7 452.3 L730 461.8 Z"/>
<path d="M695.8 439.4 Q670 442 669.9 468 V496.5 H741.9 M743.4 439.4 Q769 442 769.3 466.5 V468.5"/>
<circle cx="697.2" cy="471.3" r="5.6"/>
<path d="M692.1 483 V496.5"/>
<path d="M775.2 476.2 A17 17 0 1 0 778.4 498.2"/>
<path d="M753.7 486.2 L764 497.2 L795.8 469.7" stroke-width="3.6"/>
</g>
<!--LOGOS-->
<defs><radialGradient id="gSun" cx="268.3" cy="95.6" r="32" gradientUnits="userSpaceOnUse"><stop offset="0" stop-color="#fdb92b"/><stop offset="0.5" stop-color="#fbb12a"/><stop offset="0.64" stop-color="#f69d2b"/><stop offset="0.8" stop-color="#ef7f2d"/><stop offset="0.92" stop-color="#eb6630"/><stop offset="1" stop-color="#e65037"/></radialGradient></defs>
<circle cx="268.3" cy="95.6" r="35.6" fill="#e3333a"/><path d="M265.86 60.69 L268.30 57.40 L270.74 60.69 Z M291.26 69.19 L295.31 68.59 L294.71 72.64 Z M303.21 93.16 L306.50 95.60 L303.21 98.04 Z M294.71 118.56 L295.31 122.61 L291.26 122.01 Z M270.74 130.51 L268.30 133.80 L265.86 130.51 Z M245.34 122.01 L241.29 122.61 L241.89 118.56 Z M233.39 98.04 L230.10 95.60 L233.39 93.16 Z M241.89 72.64 L241.29 68.59 L245.34 69.19 Z " fill="#e3333a"/>
<circle cx="268.3" cy="95.6" r="32" fill="url(#gSun)"/>
<text x="110.4" y="178.6" font-family="Liberation Sans" font-size="59.5" fill="#da373b" textLength="343.5" lengthAdjust="spacingAndGlyphs">ASSOCHAM</text>
<text x="216.8" y="205.1" font-family="Liberation Sans" font-size="19" fill="#e27a3b" textLength="102" lengthAdjust="spacing">INDIA</text>
<path d="M1775.4 75.3 H1754.9 A32.8 32.8 0 0 0 1754.9 140.9 H1774.6 L1781.1 130.8 H1754.9 A22.8 22.8 0 0 1 1754.9 85.2 H1781.1 Z" fill="#e8423f"/>
<path d="M1783.1 75.3 H1814.1 A32.8 32.8 0 0 1 1814.1 140.9 H1794.8 L1777.4 166.8 L1762.9 147.4 L1774.4 146.4 L1777.4 150.2 L1790 130.8 H1814.1 A22.8 22.8 0 0 0 1814.1 85.2 H1790 Z" fill="#e8423f"/>
<text x="1856.5" y="140.4" font-family="Liberation Sans" font-size="86.5" fill="#e8423f" stroke="#e8423f" stroke-width="1.6" textLength="288" lengthAdjust="spacingAndGlyphs">CollPoll</text>
<text x="2149.5" y="102.5" font-family="Liberation Sans" font-size="33" fill="#2f2f2f">®</text>
<text x="1868.5" y="193.7" font-family="Liberation Sans" font-size="39" fill="#2d2d2d" textLength="276" lengthAdjust="spacingAndGlyphs">#DigitalCampus</text>
</svg>
</body></html>
